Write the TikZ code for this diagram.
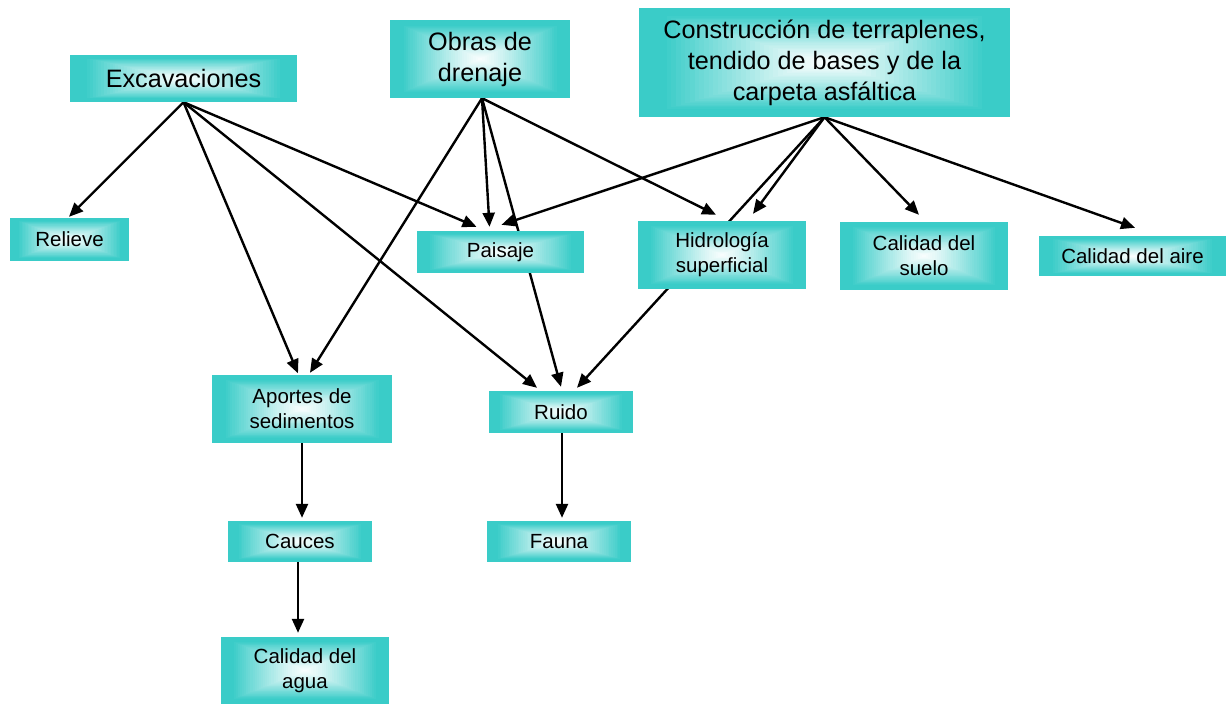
\documentclass[tikz,border=0pt]{standalone}
\usepackage{fontspec}
\setmainfont{Liberation Sans}
\usetikzlibrary{arrows.meta,backgrounds,calc}
\definecolor{tealbox}{RGB}{58,204,200}
\tikzset{
  gbox/.style={rectangle, inner sep=0pt, align=center,
    font=\fontsize{20.5}{25}\selectfont,
    path picture={
      \foreach \i in {0,...,39}{
        \pgfmathsetmacro\t{1-\i/40}
        \pgfmathtruncatemacro\c{min(100,3+115*\t^1.2)}
        \fill[tealbox!\c!white]
          ($(path picture bounding box.center)!\t!(path picture bounding box.south west)$)
          rectangle
          ($(path picture bounding box.center)!\t!(path picture bounding box.north east)$);
      }
    }},
  big/.style={font=\fontsize{25.2}{31}\selectfont},
  conn/.style={line width=2.4pt, -{Triangle[length=14pt,width=12pt]}},
}
\begin{document}
\begin{tikzpicture}[x=1pt,y=-1pt]
\useasboundingbox (0,0) rectangle (1227,704);

\node[gbox,big,minimum width=227pt,minimum height=47pt] (exc) at (183.5,78.5) {Excavaciones};
\node[gbox,big,minimum width=180pt,minimum height=78pt] (obras) at (480,59) {Obras de\\drenaje};
\node[gbox,big,minimum width=371pt,minimum height=109pt] (cons) at (824.5,62.5) {Construcción de terraplenes,\\tendido de bases y de la\\carpeta asfáltica};

\node[gbox,minimum width=119pt,minimum height=43pt] (rel) at (69.5,239.5) {Relieve};
\node[gbox,minimum width=167pt,minimum height=42pt] (pai) at (500.5,252) {Paisaje};
\node[gbox,minimum width=168pt,minimum height=68pt] (hid) at (722,255) {Hidrología\\superficial};
\node[gbox,minimum width=168pt,minimum height=68pt] (sue) at (924,256) {Calidad del\\suelo};
\node[gbox,minimum width=187pt,minimum height=40pt] (aire) at (1132.5,256) {Calidad del aire};
\node[gbox,minimum width=180pt,minimum height=68pt] (apo) at (302,409) {Aportes de\\sedimentos};
\node[gbox,minimum width=144pt,minimum height=42pt] (rui) at (561,412) {Ruido};
\node[gbox,minimum width=144pt,minimum height=41pt] (cau) at (300,541.5) {Cauces};
\node[gbox,minimum width=144pt,minimum height=41pt] (fau) at (559,541.5) {Fauna};
\node[gbox,minimum width=168pt,minimum height=67pt] (agu) at (305,670.5) {Calidad del\\agua};

\begin{scope}[on background layer]
  % Excavaciones
  \draw[conn] (exc.south) -- ([xshift=-0.5pt,yshift=1pt]rel.north);
  \draw[conn] (exc.south) -- ([xshift=-4pt,yshift=1.5pt]apo.north);
  \draw[conn] (exc.south) -- ([xshift=-24pt,yshift=4pt]pai.north);
  \draw[conn] (exc.south) -- ([xshift=-24pt,yshift=3pt]rui.north);
  % Obras de drenaje
  \draw[conn] ([xshift=2pt]obras.south) -- ([xshift=-11pt,yshift=4pt]pai.north);
  \draw[conn] ([xshift=2pt]obras.south) -- ([xshift=8pt,yshift=2pt]apo.north);
  \draw[conn] ([xshift=2pt]obras.south) -- ([xshift=0pt,yshift=4pt]rui.north);
  \draw[conn] ([xshift=2pt]obras.south) -- ([xshift=-6pt,yshift=6pt]hid.north);
  % Construccion
  \draw[conn] (cons.south) -- ([xshift=1pt,yshift=6pt]pai.north);
  \draw[conn] (cons.south) -- ([xshift=31pt,yshift=7pt]hid.north);
  \draw[conn] (cons.south) -- ([xshift=16pt,yshift=3pt]rui.north);
  \draw[conn] (cons.south) -- ([xshift=-5pt,yshift=7pt]sue.north);
  \draw[conn] (cons.south) -- ([xshift=2.5pt,yshift=8pt]aire.north);
  % vertical chains
  \draw[conn] (apo.south) -- ([xshift=2pt,yshift=3pt]cau.north);
  \draw[conn] ([xshift=-2pt]cau.south) -- ([xshift=-7pt,yshift=4pt]agu.north);
  \draw[conn] ([xshift=1pt]rui.south) -- ([xshift=3pt,yshift=3pt]fau.north);
\end{scope}
\end{tikzpicture}
\end{document}
